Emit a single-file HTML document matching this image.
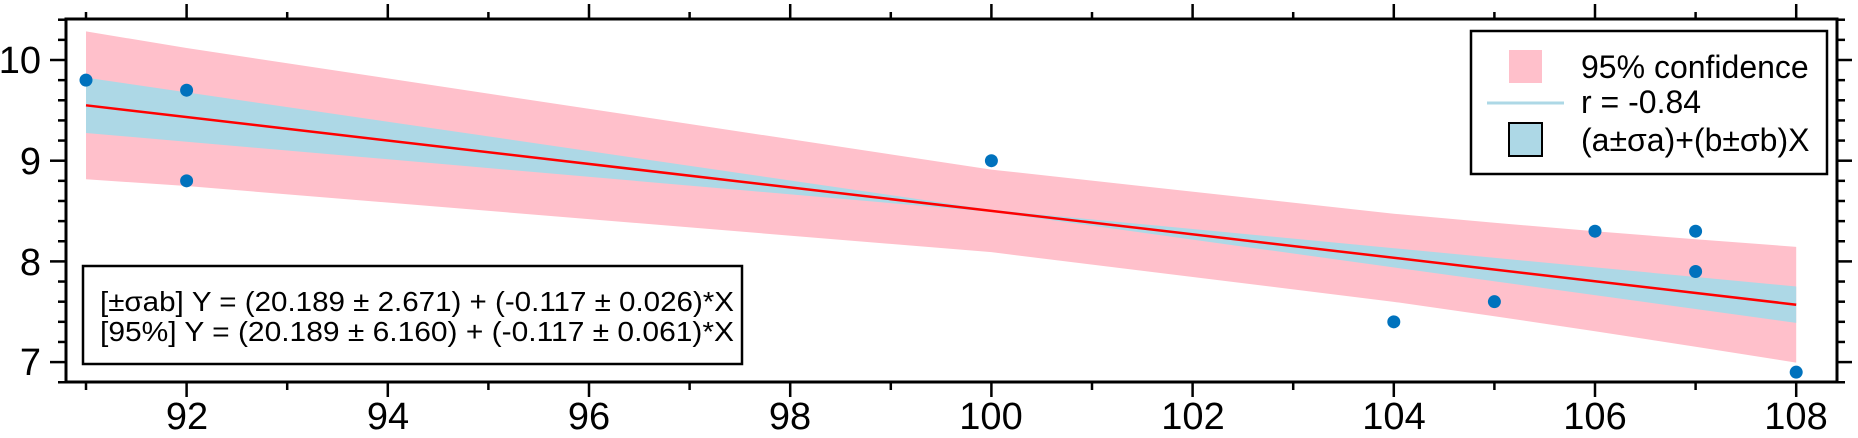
<!DOCTYPE html>
<html><head><meta charset="utf-8"><style>
html,body{margin:0;padding:0;background:#fff;}
svg{display:block;font-family:"Liberation Sans",Arial,sans-serif;}
</style></head><body>
<svg id="s" width="1858" height="438" viewBox="0 0 1858 438" xmlns="http://www.w3.org/2000/svg">
<g id="plot"></g>
<rect x="66" y="19" width="1771" height="363" fill="none" stroke="#000" stroke-width="3"/>
<g id="ticks" stroke="#000" stroke-width="2.5"></g>
<g font-size="38" fill="#000">
<text x="41" y="73" text-anchor="end">10</text>
<text x="41" y="174" text-anchor="end">9</text>
<text x="41" y="275" text-anchor="end">8</text>
<text x="41" y="375" text-anchor="end">7</text>
<text x="187" y="429" text-anchor="middle">92</text>
<text x="388" y="429" text-anchor="middle">94</text>
<text x="589" y="429" text-anchor="middle">96</text>
<text x="790" y="429" text-anchor="middle">98</text>
<text x="991" y="429" text-anchor="middle">100</text>
<text x="1193" y="429" text-anchor="middle">102</text>
<text x="1394" y="429" text-anchor="middle">104</text>
<text x="1595" y="429" text-anchor="middle">106</text>
<text x="1796" y="429" text-anchor="middle">108</text>
</g>
<rect x="1471" y="31" width="356" height="143" fill="#fff" stroke="#000" stroke-width="2.5"/>
<rect x="1509" y="50" width="33" height="33" fill="#FFC0CB"/>
<line x1="1487" y1="103" x2="1564" y2="103" stroke="#ADD8E6" stroke-width="3"/>
<rect x="1509" y="123" width="33" height="33" fill="#ADD8E6" stroke="#000" stroke-width="2"/>
<g font-size="32" fill="#000">
<text x="1581" y="78">95% confidence</text>
<text x="1581" y="113">r = -0.84</text>
<text x="1581" y="151">(a±σa)+(b±σb)X</text>
</g>
<rect x="83" y="266" width="659" height="98" fill="#fff" stroke="#000" stroke-width="2.5"/>
<g font-size="28" fill="#000" style="white-space:pre">
<text x="100" y="311" textLength="634" lengthAdjust="spacingAndGlyphs">[±σab] Y = (20.189 ± 2.671) + (-0.117 ± 0.026)*X</text>
<text x="100" y="341" textLength="634" lengthAdjust="spacingAndGlyphs">[95%]  Y = (20.189 ± 6.160) + (-0.117 ± 0.061)*X</text>
</g>
</svg>
<script>
(function(){
var NS="http://www.w3.org/2000/svg";
function X(v){return 86+(v-91)*100.6;}
function Y(v){return 60+(10-v)*100.7;}
function c(v){return 9.55-(v-91)*(9.55-7.57)/17;}
function h(v){return Math.sqrt(0.163+0.00362*(v-101.2)*(v-101.2));}
var g=document.getElementById("plot");
function el(n,a,p){var e=document.createElementNS(NS,n);for(var k in a)e.setAttribute(k,a[k]);(p||g).appendChild(e);return e;}
var xs=[91,92,100,104,105,106,107,108];
var up=[],lo=[];
xs.forEach(function(x){up.push(X(x)+","+Y(c(x)+h(x)));lo.unshift(X(x)+","+Y(c(x)-h(x)));});
el("polygon",{points:up.concat(lo).join(" "),fill:"#FFC0CB"});
function w(x){return x<100?0.01+0.0294*(100-x):0.01+0.0213*(x-100);}
var bu=[],bl=[];
[91,100,108].forEach(function(x){bu.push(X(x)+","+Y(c(x)+w(x)));bl.unshift(X(x)+","+Y(c(x)-w(x)));});
el("polygon",{points:bu.concat(bl).join(" "),fill:"#ADD8E6"});
el("line",{x1:X(91),y1:Y(c(91)),x2:X(108),y2:Y(c(108)),stroke:"#FF0000","stroke-width":2.5});
[[91,9.8],[92,9.7],[92,8.8],[100,9.0],[104,7.4],[105,7.6],[106,8.3],[107,8.3],[107,7.9],[108,6.9]].forEach(function(p){
el("circle",{cx:X(p[0]),cy:Y(p[1]),r:6.5,fill:"#0072BD"});});
var t=document.getElementById("ticks");
for(var i=0;i<=18;i++){var v=6.8+i*0.2;v=Math.round(v*10)/10;var y=Y(v);if(y<19||y>382.5)continue;
var major=Math.abs(v-Math.round(v))<0.01;
el("line",{x1:66,y1:y,x2:major?50:58,y2:y},t);
el("line",{x1:1837,y1:y,x2:major?1852:1845,y2:y},t);}
for(var x=91;x<=108;x++){var px=X(x);var major=x%2==0;
el("line",{x1:px,y1:382,x2:px,y2:major?397:390},t);
el("line",{x1:px,y1:19,x2:px,y2:major?4:12},t);}
})();
</script>
</body></html>
